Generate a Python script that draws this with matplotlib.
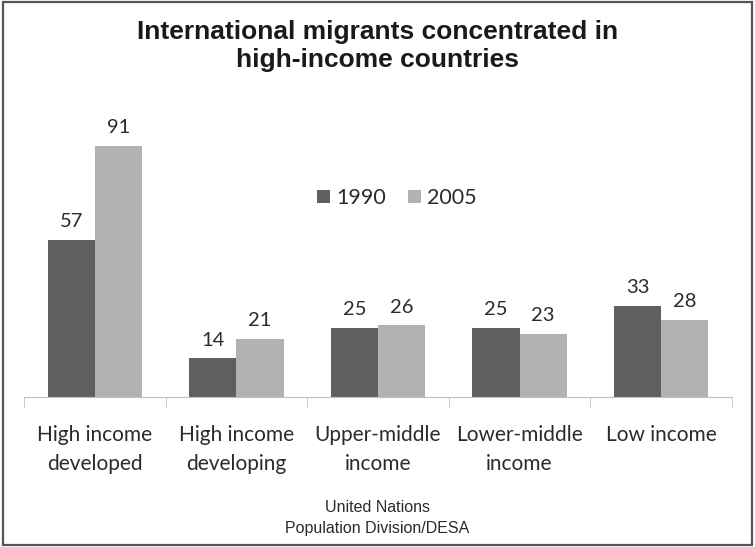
import numpy as np
import matplotlib.pyplot as plt
from matplotlib.patches import Rectangle

# categories and values (millions of migrants)
categories = ['High income\ndeveloped', 'High income\ndeveloping', 'Upper-middle\nincome',
              'Lower-middle\nincome', 'Low income']
years = ['1990', '2005']
migrants_1990 = [57, 14, 25, 25, 33]
migrants_2005 = [91, 21, 26, 23, 28]

dark = '#5f5f5f'
light = '#b2b2b2'
txt = '#2b2b2b'

fig = plt.figure(figsize=(7.55, 5.47), dpi=100)
fig.patch.set_facecolor('white')

# frame around the whole picture
fig.add_artist(Rectangle((0.004, 0.004), 0.992, 0.992, transform=fig.transFigure,
                         fill=False, edgecolor='#555555', linewidth=1.6))

ax = fig.add_axes([24/755, 150/547, 708/755, 275.8/547])

x = np.arange(len(categories))
w = 0.333
b1 = ax.bar(x - w/2, migrants_1990, w, color=dark, label=years[0])
b2 = ax.bar(x + w/2, migrants_2005, w, color=light, label=years[1])

for bars in (b1, b2):
	for r in bars:
		ax.annotate('%d' % r.get_height(), (r.get_x() + r.get_width()/2, r.get_height()),
		            xytext=(0, 7), textcoords='offset points', ha='center', va='bottom',
		            fontsize=14.5, family='Lato', color=txt)

ax.set_xlim(-0.5, len(categories) - 0.5)
ax.set_ylim(0, 100)

for s in ['top', 'right', 'left']:
	ax.spines[s].set_visible(False)
ax.spines['bottom'].set_color('#c0c0c0')
ax.set_yticks([])

ax.set_xticks(x)
ax.set_xticklabels(categories, fontsize=15, family='Lato', color=txt, linespacing=1.55)
ax.tick_params(axis='x', which='major', length=0, pad=20)
ax.set_xticks(np.arange(-0.5, len(categories)), minor=True)
ax.tick_params(axis='x', which='minor', length=7, color='#c0c0c0', direction='out')

leg = ax.legend(loc='center', bbox_to_anchor=(397/755, 1 - 198/547), bbox_transform=fig.transFigure,
                ncol=2, frameon=False, handlelength=0.6, handleheight=0.6, handletextpad=0.3,
                columnspacing=1.0, prop={'family': 'Lato', 'size': 15.5})
for t in leg.get_texts():
	t.set_color(txt)

fig.text(0.5, 1 - 46/547, 'International migrants concentrated in\nhigh-income countries',
         ha='center', va='center', fontsize=19, fontweight='bold', family='Liberation Sans',
         color='#1a1a1a', linespacing=1.25)

fig.text(0.5, 1 - 518/547, 'United Nations\nPopulation Division/DESA', ha='center', va='center',
         fontsize=11.5, family='Liberation Sans', color=txt, linespacing=1.45)

plt.savefig('out.png', dpi=100)
